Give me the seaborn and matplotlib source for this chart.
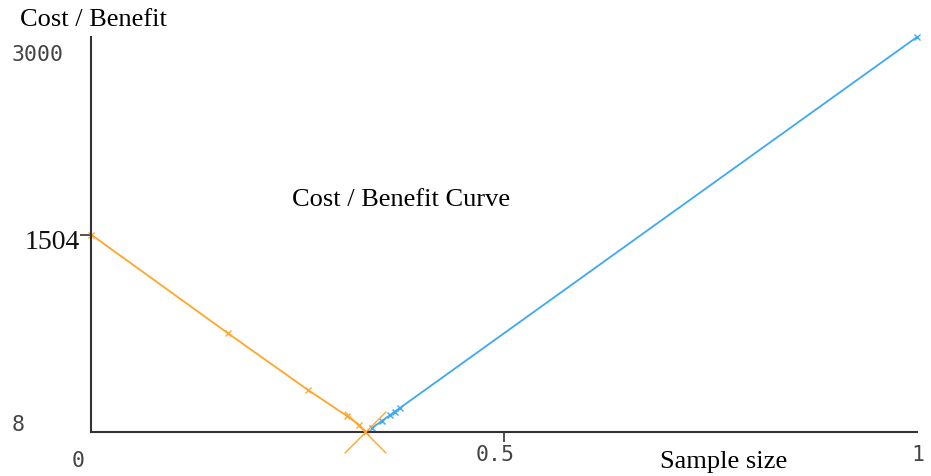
import matplotlib
matplotlib.use("Agg")
import matplotlib.pyplot as plt
from matplotlib.transforms import offset_copy
import seaborn as sns
import pandas as pd

# ---- data ----
cost_x = [0.0, 0.166, 0.263, 0.310, 0.325, 0.333]
cost_y = [1504, 755, 325, 129, 60, 8]
benefit_x = [0.340, 0.352, 0.362, 0.368, 0.374, 1.0]
benefit_y = [38, 91, 136, 163, 190, 3000]
cross_x = [0.332]
cross_y = [8]
x_ticks = [0, 0.5, 1]
x_tick_labels = ["0", "0.5", "1"]
y_ticks = [8, 1504, 3000]
y_tick_labels = ["8", "1504", "3000"]

ORANGE = "#FFA62B"
BLUE = "#3DA8F5"

sns.set_theme(style="white")
plt.rcParams["font.family"] = ["DejaVu Sans"]

W, H = 931, 477
fig = plt.figure(figsize=(W / 100, H / 100), dpi=100)
ax = fig.add_axes([91 / W, (H - 433) / H, 826 / W, (433 - 38) / H])

cost_df = pd.DataFrame({"x": cost_x, "y": cost_y})
ben_df = pd.DataFrame({"x": benefit_x, "y": benefit_y})
sns.lineplot(data=cost_df, x="x", y="y", sort=False, color=ORANGE, lw=1.3,
             marker="x", markersize=5, markeredgewidth=1.0, markeredgecolor=ORANGE,
             ax=ax, clip_on=False)
sns.lineplot(data=ben_df, x="x", y="y", sort=False, color=BLUE, lw=1.3,
             marker="x", markersize=5, markeredgewidth=1.0, markeredgecolor=BLUE,
             ax=ax, clip_on=False)
sns.scatterplot(x=cross_x, y=cross_y, marker="x", s=30 ** 2, color=ORANGE,
                linewidth=1.0, ax=ax, clip_on=False, zorder=5)

ax.set_xlim(0, 1)
ax.set_ylim(8, 3000)
ax.set_xlabel("")
ax.set_ylabel("")
for s in ["top", "right"]:
    ax.spines[s].set_visible(False)
for s in ["left", "bottom"]:
    ax.spines[s].set_color("#333333")
    ax.spines[s].set_linewidth(1.5)

# ticks: only 0.5 on x and 1504 on y get tick marks
ax.set_xticks([0.5])
ax.set_xticklabels([""])
ax.set_yticks([1504])
ax.set_yticklabels([""])
ax.tick_params(axis="x", direction="out", length=7, width=1.2, color="#333333", bottom=True)
ax.tick_params(axis="y", direction="out", length=8, width=1.2, color="#333333", left=True)

mono = "DejaVu Sans Mono"
# x tick labels (axes-fraction y, data x) with pixel offsets
xt = ax.get_xaxis_transform()
x_offsets = [(-13, -28), (-9, -22), (1, -22)]
for v, lab, (dx, dy) in zip(x_ticks, x_tick_labels, x_offsets):
    tr = offset_copy(xt, fig=fig, x=dx, y=dy, units="dots")
    ax.text(v, 0, lab, transform=tr, ha="center", va="center",
            fontsize=15.5, family=mono, color="#444444", clip_on=False)

yt = ax.get_yaxis_transform()
# 8 and 3000 left aligned at x=12px, 1504 serif right aligned near tick
left_x = (12 - 91) / 826
tr = offset_copy(yt, fig=fig, x=0, y=8, units="dots")
ax.text(left_x, y_ticks[0], y_tick_labels[0], transform=tr, ha="left", va="center",
        fontsize=15.5, family=mono, color="#444444", clip_on=False)
tr = offset_copy(yt, fig=fig, x=0, y=-17, units="dots")
ax.text(left_x, y_ticks[2], y_tick_labels[2], transform=tr, ha="left", va="center",
        fontsize=15.5, family=mono, color="#444444", clip_on=False)
tr = offset_copy(yt, fig=fig, x=-11, y=-7, units="dots")
ax.text(0, y_ticks[1], y_tick_labels[1], transform=tr, ha="right", va="center",
        fontsize=20, family="Liberation Serif", color="#111111", clip_on=False)

serif = "Liberation Serif"
fig.text(20 / W, 1 - 20 / H, "Cost / Benefit", ha="left", va="center",
         fontsize=19, family=serif, color="black")
fig.text(401 / W, 1 - 200 / H, "Cost / Benefit Curve", ha="center", va="center",
         fontsize=19, family=serif, color="black")
fig.text(724 / W, 1 - 462 / H, "Sample size", ha="center", va="center",
         fontsize=19, family=serif, color="black")

fig.savefig("out.png", dpi=100)
